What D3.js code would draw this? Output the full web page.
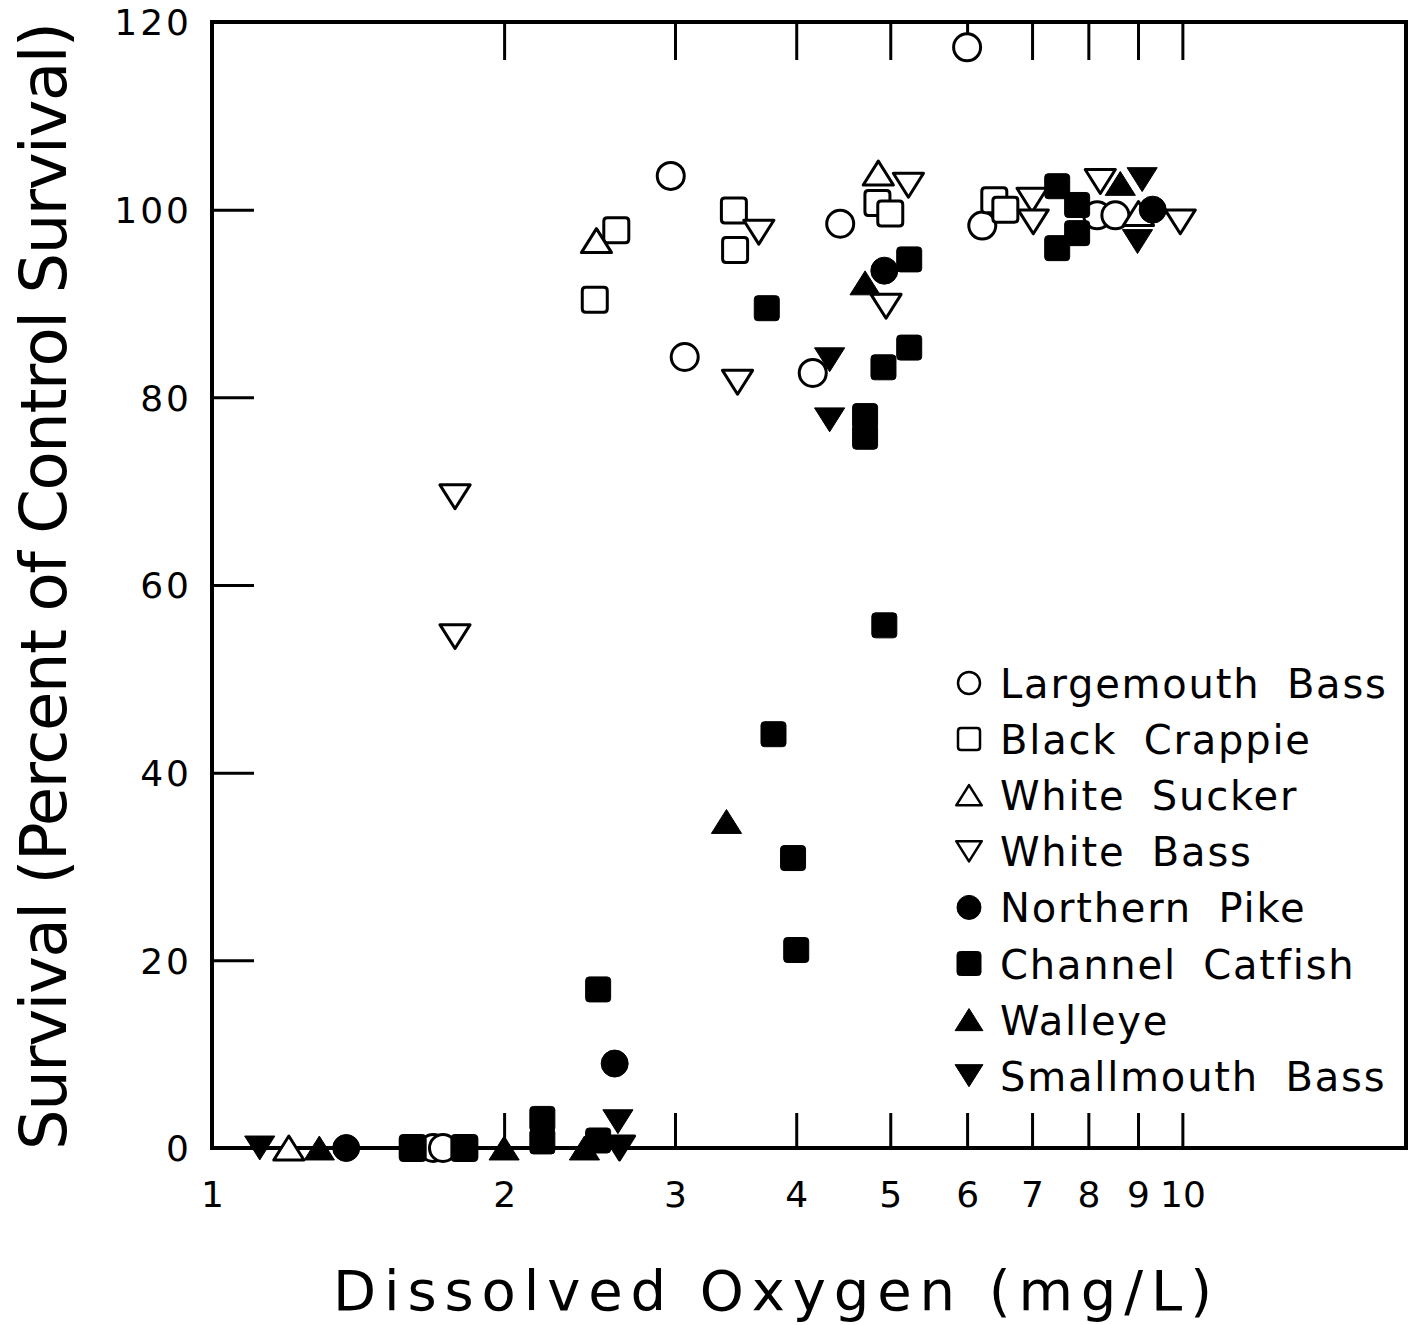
<!DOCTYPE html>
<html>
<head>
<meta charset="utf-8">
<script src="https://cdn.jsdelivr.net/npm/d3@7"></script>
<style>
  html, body { margin: 0; padding: 0; background: #fff; }
  svg { display: block; }
  text { font-family: "DejaVu Sans", sans-serif; fill: #000; }
</style>
</head>
<body>
<svg id="chart" width="1419" height="1325"></svg>
<script>
// ---------------- DATA ----------------
const xTickValues = [1, 2, 3, 4, 5, 6, 7, 8, 9, 10];
const xTickLabels = ["1", "2", "3", "4", "5", "6", "7", "8", "9", "10"];
const yTickValues = [0, 20, 40, 60, 80, 100, 120];
const yTickLabels = ["0", "20", "40", "60", "80", "100", "120"];

const xTitle = "Dissolved Oxygen (mg/L)";
const yTitle = "Survival (Percent of Control Survival)";

const speciesNames = ["Largemouth Bass", "Black Crappie", "White Sucker", "White Bass",
                      "Northern Pike", "Channel Catfish", "Walleye", "Smallmouth Bass"];
const speciesShapes = ["circle", "square", "triUp", "triDown", "circle", "square", "triUp", "triDown"];
const speciesFilled = [false, false, false, false, true, true, true, true];

// [dissolved oxygen mg/L, survival %]
const largemouthBass = [[6.0, 117.3], [2.97, 103.6], [3.07, 84.3], [4.44, 98.5], [4.16, 82.6],
                        [6.22, 98.3], [8.17, 99.4], [8.53, 99.4], [1.69, 0], [1.73, 0]];
const blackCrappie   = [[2.61, 97.8], [2.48, 90.4], [3.45, 99.9], [3.46, 95.7], [4.85, 100.7],
                        [5.0, 99.6], [6.40, 101.0], [6.57, 100.0], [1.61, 0], [1.82, 0]];
const whiteSucker    = [[2.49, 96.7], [4.86, 103.9], [9.01, 99.6], [1.20, 0]];
const whiteBass      = [[1.78, 69.4], [1.78, 54.5], [3.48, 81.6], [3.66, 97.6], [4.95, 89.7],
                        [5.22, 102.6], [7.0, 101.0], [7.02, 98.7], [8.23, 103.0], [9.95, 98.7], [2.63, 0]];
const northernPike   = [[1.375, 0], [2.60, 9.0], [4.93, 93.5], [9.32, 100.0]];
const channelCatfish = [[3.73, 89.5], [3.79, 44.1], [3.97, 30.9], [4.0, 21.1], [4.93, 55.7],
                        [4.71, 78.0], [4.71, 75.8], [4.92, 83.2], [5.23, 85.3], [5.23, 94.7],
                        [7.43, 102.5], [7.79, 100.5], [7.79, 97.5], [7.43, 95.9],
                        [2.50, 16.9], [2.19, 3.1], [2.19, 0.7], [1.61, 0], [1.82, 0], [2.50, 0.8]];
const walleye        = [[1.29, 0], [2.0, 0], [3.39, 34.8], [4.71, 92.2], [8.63, 102.8], [2.42, 0]];
const smallmouthBass = [[1.12, 0], [4.33, 84.0], [4.33, 77.6], [9.09, 103.2], [8.99, 96.6],
                        [2.62, 2.8], [2.63, 0]];

const speciesData = [largemouthBass, blackCrappie, whiteSucker, whiteBass,
                     northernPike, channelCatfish, walleye, smallmouthBass];

// ---------------- CHART ----------------
const svg = d3.select("#chart");
const x = d3.scaleLog().domain([1, 17]).range([212, 1406]);
const y = d3.scaleLinear().domain([0, 120]).range([1148, 22]);

function shapePath(shape, s) {
  const h = s / 2;
  if (shape === "circle") {
    const p = d3.path(); p.arc(0, 0, h, 0, 2 * Math.PI); p.closePath(); return p.toString();
  }
  if (shape === "square") {
    const r = s * 0.14, p = d3.path();
    p.moveTo(-h + r, -h); p.lineTo(h - r, -h); p.quadraticCurveTo(h, -h, h, -h + r);
    p.lineTo(h, h - r); p.quadraticCurveTo(h, h, h - r, h);
    p.lineTo(-h + r, h); p.quadraticCurveTo(-h, h, -h, h - r);
    p.lineTo(-h, -h + r); p.quadraticCurveTo(-h, -h, -h + r, -h); p.closePath();
    return p.toString();
  }
  const w = s * 0.58, th = s * 0.46;
  if (shape === "triUp") return `M0,${-th}L${w},${th}L${-w},${th}Z`;
  return `M0,${th}L${w},${-th}L${-w},${-th}Z`;
}
const markerSize = { circle: 27, square: 25, triUp: 26, triDown: 26 };

// plot frame
svg.append("rect")
  .attr("x", x(1)).attr("y", y(120))
  .attr("width", x(17) - x(1)).attr("height", y(0) - y(120))
  .attr("fill", "none").attr("stroke", "#000").attr("stroke-width", 4);

// bottom axis (ticks pointing up + labels)
const xAxisB = svg.append("g").attr("transform", `translate(0,${y(0)})`)
  .call(d3.axisBottom(x).tickValues(xTickValues)
    .tickFormat((d, i) => xTickLabels[i]).tickSize(-35).tickPadding(33));
xAxisB.select(".domain").remove();
xAxisB.selectAll(".tick line").attr("stroke-width", 3).filter(d => d === 1).remove();
xAxisB.selectAll(".tick text").attr("font-size", 36).attr("font-family", "DejaVu Sans");

// top axis (ticks pointing down)
const xAxisT = svg.append("g").attr("transform", `translate(0,${y(120)})`)
  .call(d3.axisTop(x).tickValues(xTickValues.slice(1)).tickFormat("").tickSize(-38));
xAxisT.select(".domain").remove();
xAxisT.selectAll(".tick line").attr("stroke-width", 3);

// left axis (ticks pointing right)
const yAxis = svg.append("g").attr("transform", `translate(${x(1)},0)`)
  .call(d3.axisLeft(y).tickValues(yTickValues)
    .tickFormat((d, i) => yTickLabels[i]).tickSize(-42).tickPadding(20));
yAxis.select(".domain").remove();
yAxis.selectAll(".tick line").attr("stroke-width", 3).filter(d => d === 0 || d === 120).remove();
yAxis.selectAll(".tick text").attr("font-size", 36).attr("font-family", "DejaVu Sans")
  .attr("letter-spacing", 3).attr("dy", "0.36em");

// axis titles
svg.append("text")
  .attr("x", 333).attr("y", 1310)
  .attr("font-size", 56)
  .attr("textLength", 879).attr("lengthAdjust", "spacing")
  .text(xTitle);

svg.append("text")
  .attr("transform", "translate(66,1150) rotate(-90)")
  .attr("font-size", 64)
  .attr("textLength", 1128).attr("lengthAdjust", "spacing")
  .text(yTitle);

// points
const markers = svg.append("g");
speciesData.forEach((pts, i) => {
  const shape = speciesShapes[i];
  const filled = speciesFilled[i];
  markers.selectAll(null).data(pts).enter().append("path")
    .attr("d", shapePath(shape, markerSize[shape]))
    .attr("transform", d => `translate(${x(d[0])},${y(d[1])})`)
    .attr("fill", filled ? "#000" : "#fff")
    .attr("stroke", "#000")
    .attr("stroke-width", filled ? 1 : 3)
    .attr("stroke-linejoin", "round");
});

// legend
const legendY0 = 683, legendStep = 56.1;
const legend = svg.append("g");
speciesNames.forEach((name, i) => {
  const cy = legendY0 + i * legendStep;
  const shape = speciesShapes[i];
  legend.append("path")
    .attr("d", shapePath(shape, speciesFilled[i] ? 24 : 22))
    .attr("transform", `translate(969,${cy})`)
    .attr("fill", speciesFilled[i] ? "#000" : "#fff")
    .attr("stroke", "#000")
    .attr("stroke-width", speciesFilled[i] ? 1 : 2.5)
    .attr("stroke-linejoin", "round");
  legend.append("text")
    .attr("x", 1000).attr("y", cy + 15)
    .attr("font-size", 40)
    .attr("letter-spacing", 1.8)
    .attr("word-spacing", 12)
    .text(name);
});
</script>
</body>
</html>
